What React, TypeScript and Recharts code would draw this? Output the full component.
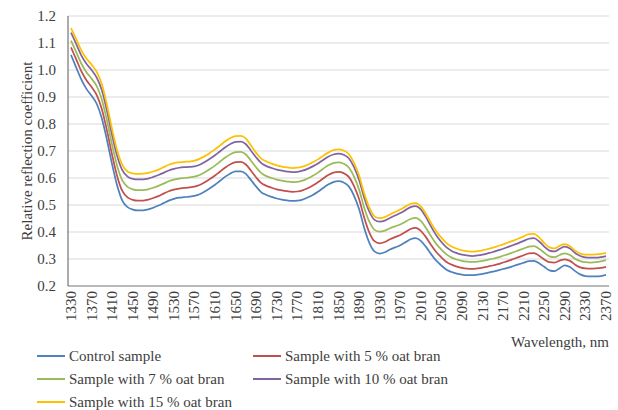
import { LineChart, Line, XAxis, YAxis, CartesianGrid } from 'recharts';

const wavelengths = [
  1330, 1340, 1350, 1360, 1370, 1380, 1390, 1400, 1410, 1420, 1430, 1440, 1450, 1460, 1470,
  1480, 1490, 1500, 1510, 1520, 1530, 1540, 1550, 1560, 1570, 1580, 1590, 1600, 1610, 1620,
  1630, 1640, 1650, 1660, 1670, 1680, 1690, 1700, 1710, 1720, 1730, 1740, 1750, 1760, 1770,
  1780, 1790, 1800, 1810, 1820, 1830, 1840, 1850, 1860, 1870, 1880, 1890, 1900, 1910, 1920,
  1930, 1940, 1950, 1960, 1970, 1980, 1990, 2000, 2010, 2020, 2030, 2040, 2050, 2060, 2070,
  2080, 2090, 2100, 2110, 2120, 2130, 2140, 2150, 2160, 2170, 2180, 2190, 2200, 2210, 2220,
  2230, 2240, 2250, 2260, 2270, 2280, 2290, 2300, 2310, 2320, 2330, 2340, 2350, 2360, 2370,
];

const control = [
  1.056, 1.01, 0.965, 0.93, 0.905, 0.875, 0.82, 0.74, 0.65, 0.57, 0.515, 0.492, 0.483, 0.48, 0.48,
  0.484, 0.49, 0.498, 0.507, 0.516, 0.523, 0.527, 0.529, 0.531, 0.534, 0.54, 0.55, 0.562, 0.575, 0.59,
  0.605, 0.617, 0.625, 0.625, 0.615, 0.592, 0.568, 0.547, 0.537, 0.53, 0.524, 0.52, 0.517, 0.515, 0.516,
  0.52, 0.528, 0.537, 0.549, 0.563, 0.576, 0.585, 0.588, 0.583, 0.569, 0.535, 0.485, 0.415, 0.36, 0.328,
  0.32, 0.325, 0.335, 0.343, 0.351, 0.362, 0.373, 0.377, 0.367, 0.345, 0.318, 0.294, 0.276, 0.26, 0.252,
  0.246, 0.242, 0.24, 0.24, 0.242, 0.245, 0.249, 0.253, 0.258, 0.263, 0.268, 0.274, 0.28, 0.286, 0.292,
  0.293, 0.284, 0.271, 0.258, 0.255, 0.266, 0.276, 0.27, 0.255, 0.243, 0.237, 0.236, 0.236, 0.237, 0.241,
];

const bran5 = [
  1.084, 1.04, 0.996, 0.962, 0.937, 0.907, 0.855, 0.775, 0.685, 0.605, 0.551, 0.528, 0.519, 0.516, 0.516,
  0.52, 0.526, 0.533, 0.542, 0.551, 0.557, 0.561, 0.563, 0.565, 0.568, 0.574, 0.584, 0.596, 0.609, 0.624,
  0.639, 0.651, 0.659, 0.66, 0.65, 0.627, 0.602, 0.581, 0.571, 0.564, 0.558, 0.554, 0.551, 0.549, 0.55,
  0.554, 0.562, 0.572, 0.584, 0.598, 0.611, 0.62, 0.623, 0.618, 0.604, 0.571, 0.522, 0.453, 0.398, 0.366,
  0.358, 0.363, 0.373, 0.381, 0.389, 0.4, 0.411, 0.415, 0.404, 0.381, 0.352, 0.326, 0.306, 0.289, 0.279,
  0.272, 0.267, 0.264, 0.263, 0.265, 0.268, 0.272, 0.276, 0.281, 0.287, 0.293, 0.3, 0.307, 0.314, 0.321,
  0.322, 0.312, 0.298, 0.288, 0.287, 0.294, 0.299, 0.293, 0.279, 0.269, 0.265, 0.264, 0.265, 0.267, 0.271,
];

const bran7 = [
  1.109, 1.067, 1.024, 0.992, 0.968, 0.94, 0.89, 0.812, 0.722, 0.643, 0.59, 0.567, 0.558, 0.555, 0.555,
  0.558, 0.564, 0.571, 0.579, 0.588, 0.594, 0.598, 0.6, 0.602, 0.605, 0.611, 0.621, 0.633, 0.646, 0.661,
  0.676, 0.688, 0.696, 0.697, 0.687, 0.664, 0.639, 0.618, 0.607, 0.6, 0.594, 0.59, 0.587, 0.585, 0.586,
  0.59, 0.598, 0.608, 0.62, 0.634, 0.647, 0.655, 0.658, 0.653, 0.639, 0.606, 0.557, 0.49, 0.438, 0.408,
  0.401, 0.405, 0.414, 0.421, 0.428, 0.438, 0.448, 0.452, 0.441, 0.415, 0.384, 0.356, 0.335, 0.317, 0.305,
  0.298, 0.293, 0.29, 0.289, 0.29, 0.293, 0.297, 0.301, 0.306, 0.312, 0.318, 0.325, 0.332, 0.339, 0.346,
  0.348, 0.338, 0.323, 0.31, 0.307, 0.315, 0.321, 0.315, 0.301, 0.292, 0.288, 0.287, 0.288, 0.291, 0.296,
];

const bran10 = [
  1.138, 1.097, 1.054, 1.023, 1.0, 0.972, 0.925, 0.848, 0.758, 0.68, 0.628, 0.605, 0.597, 0.595, 0.595,
  0.598, 0.604, 0.611, 0.619, 0.628, 0.634, 0.638, 0.64, 0.641, 0.643, 0.649, 0.659, 0.671, 0.684, 0.699,
  0.714, 0.726, 0.734, 0.735, 0.725, 0.701, 0.676, 0.655, 0.644, 0.637, 0.631, 0.627, 0.624, 0.622, 0.623,
  0.627, 0.634, 0.643, 0.654, 0.667, 0.679, 0.687, 0.69, 0.686, 0.673, 0.641, 0.593, 0.527, 0.475, 0.445,
  0.438, 0.442, 0.452, 0.461, 0.47, 0.481, 0.492, 0.496, 0.484, 0.455, 0.42, 0.388, 0.363, 0.343, 0.33,
  0.322, 0.316, 0.313, 0.311, 0.313, 0.316, 0.321, 0.326, 0.332, 0.338, 0.345, 0.352, 0.359, 0.367, 0.375,
  0.377, 0.365, 0.346, 0.331, 0.328, 0.338, 0.346, 0.339, 0.322, 0.311, 0.306, 0.305, 0.305, 0.307, 0.311,
];

const bran15 = [
  1.155, 1.115, 1.073, 1.043, 1.02, 0.993, 0.947, 0.87, 0.78, 0.7, 0.648, 0.624, 0.617, 0.615, 0.616,
  0.619, 0.624, 0.631, 0.64, 0.649, 0.655, 0.658, 0.66, 0.661, 0.664, 0.671, 0.681, 0.693, 0.706, 0.721,
  0.736, 0.748, 0.755, 0.756, 0.746, 0.72, 0.693, 0.672, 0.661, 0.653, 0.647, 0.642, 0.639, 0.637, 0.638,
  0.642, 0.649, 0.658, 0.669, 0.682, 0.694, 0.703, 0.706, 0.702, 0.689, 0.657, 0.609, 0.543, 0.49, 0.458,
  0.451, 0.455, 0.465, 0.474, 0.483, 0.494, 0.504, 0.507, 0.495, 0.467, 0.433, 0.403, 0.379, 0.359, 0.346,
  0.338, 0.332, 0.329, 0.327, 0.329, 0.332, 0.337, 0.342, 0.348, 0.354, 0.361, 0.368, 0.376, 0.384, 0.392,
  0.393, 0.38, 0.359, 0.343, 0.339, 0.349, 0.355, 0.347, 0.331, 0.32, 0.316, 0.316, 0.317, 0.319, 0.323,
];

const yTicks = [0.2, 0.3, 0.4, 0.5, 0.6, 0.7, 0.8, 0.9, 1.0, 1.1, 1.2];

const FONT = '"Liberation Serif", "Times New Roman", serif';
const TEXT = '#404040';

const seriesList = [
  { key: 'control', name: 'Control sample', color: '#4F81BD' },
  { key: 'bran5', name: 'Sample with 5 % oat bran', color: '#C0504D' },
  { key: 'bran7', name: 'Sample with 7 % oat bran', color: '#9BBB59' },
  { key: 'bran10', name: 'Sample with 10 % oat bran', color: '#8064A2' },
  { key: 'bran15', name: 'Sample with 15 % oat bran', color: '#FFC000' },
];

const data = wavelengths.map((wl, i) => ({
  wl,
  control: control[i],
  bran5: bran5[i],
  bran7: bran7[i],
  bran10: bran10[i],
  bran15: bran15[i],
}));

function WaveTick({ x, y, payload }: any) {
  return (
    <text
      x={x}
      y={y}
      transform={`rotate(-90 ${x} ${y})`}
      textAnchor="end"
      dominantBaseline="central"
      fontSize={15}
      fontFamily={FONT}
      fill={TEXT}
    >
      {payload.value}
    </text>
  );
}

function YTitle({ viewBox }: any) {
  const cx = viewBox.x + 27;
  const cy = viewBox.y + viewBox.height / 2;
  return (
    <text
      x={cx}
      y={cy}
      transform={`rotate(-90 ${cx} ${cy})`}
      textAnchor="middle"
      dominantBaseline="central"
      fontSize={15}
      fontFamily={FONT}
      fill={TEXT}
    >
      Relative reflection coefficient
    </text>
  );
}

// legend slots: two columns, three rows
const legendSlots = [
  { left: 37, top: 356 },
  { left: 253, top: 356 },
  { left: 37, top: 379 },
  { left: 253, top: 379 },
  { left: 37, top: 402 },
];

export default function App() {
  return (
    <div
      style={{
        position: 'absolute',
        left: 0,
        top: 0,
        width: 618,
        height: 410,
        background: '#fff',
        fontFamily: FONT,
        overflow: 'hidden',
      }}
    >
      <LineChart width={618} height={330} data={data} margin={{ top: 16, right: 9, left: 0, bottom: 0 }}>
        <CartesianGrid vertical={false} stroke="#d9d9d9" strokeWidth={1} />
        <XAxis
          dataKey="wl"
          interval={3}
          height={44}
          padding={{ left: 3, right: 3 }}
          tickLine={false}
          tickSize={0}
          tickMargin={5}
          axisLine={{ stroke: '#868686', strokeWidth: 1 }}
          tick={<WaveTick />}
        />
        <YAxis
          width={68}
          domain={[0.2, 1.2]}
          ticks={yTicks}
          interval={0}
          tickFormatter={(v: number) => v.toFixed(1)}
          tickLine={false}
          tickSize={0}
          tickMargin={12}
          axisLine={{ stroke: '#595959', strokeWidth: 1 }}
          tick={{ fontSize: 15, fontFamily: FONT, fill: TEXT }}
          label={<YTitle />}
        />
        {seriesList.map((s) => (
          <Line
            key={s.key}
            type="monotone"
            dataKey={s.key}
            name={s.name}
            stroke={s.color}
            strokeWidth={1.75}
            dot={false}
            isAnimationActive={false}
          />
        ))}
      </LineChart>
      <div
        style={{
          position: 'absolute',
          right: 9,
          top: 332,
          fontSize: 15,
          color: TEXT,
          lineHeight: '20px',
          whiteSpace: 'nowrap',
        }}
      >
        Wavelength, nm
      </div>
      {seriesList.map((s, i) => (
        <div
          key={s.key}
          style={{
            position: 'absolute',
            left: legendSlots[i].left,
            top: legendSlots[i].top - 10,
            height: 20,
            display: 'flex',
            alignItems: 'center',
            fontSize: 15,
            color: TEXT,
            whiteSpace: 'nowrap',
          }}
        >
          <svg width={32} height={20} style={{ display: 'block' }}>
            <line x1={0} y1={10} x2={28} y2={10} stroke={s.color} strokeWidth={2} />
          </svg>
          <span>{s.name}</span>
        </div>
      ))}
    </div>
  );
}
